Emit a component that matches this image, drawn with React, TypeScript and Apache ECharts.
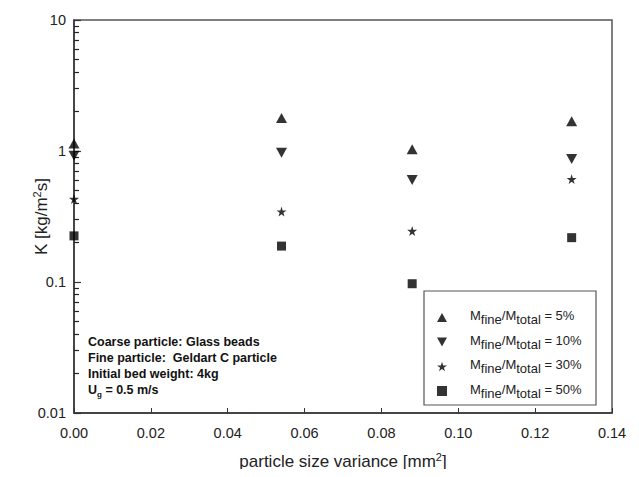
import React, { useEffect, useRef } from "react";
import * as echarts from "echarts";

const variance = [0, 0.054, 0.088, 0.1295];
const k5 = [1.14, 1.79, 1.03, 1.69];
const k10 = [0.92, 0.97, 0.6, 0.87];
const k30 = [0.43, 0.345, 0.245, 0.61];
const k50 = [0.225, 0.188, 0.097, 0.218];
const seriesLabels = ["5%", "10%", "30%", "50%"];
const yMinorTicks = [0.02, 0.03, 0.04, 0.05, 0.06, 0.07, 0.08, 0.09, 0.2, 0.3, 0.4, 0.5, 0.6, 0.7, 0.8, 0.9, 2, 3, 4, 5, 6, 7, 8, 9];
const noteLines = [
  "Coarse particle: Glass beads",
  "Fine particle:  Geldart C particle",
  "Initial bed weight: 4kg",
];

const UP = "path://M5,0 L10,9 L0,9 Z";
const DOWN = "path://M0,0 L10,0 L5,9 Z";
const STAR = "path://M50,0 L61,35 L98,35 L68,57 L79,91 L50,70 L21,91 L32,57 L2,35 L39,35 Z";

const FONT = "Liberation Sans, Arial, sans-serif";

export default function App() {
  const ref = useRef<HTMLDivElement>(null);
  useEffect(() => {
    const chart = echarts.init(ref.current!, null, { renderer: "svg" });
    const mk = (name: string, vals: number[], symbol: string, size: number | number[]) => ({
      name,
      type: "scatter",
      symbol,
      symbolSize: size,
      itemStyle: { color: "#000" },
      data: variance.map((x, i) => [x, vals[i]]),
      z: 5,
    });
    const names = seriesLabels.map((l) => "M" + l);
    chart.setOption({
      animation: false,
      backgroundColor: "#fff",
      textStyle: { fontFamily: FONT },
      grid: { left: 74, right: 27, top: 20, bottom: 64, show: true, borderColor: "#555", borderWidth: 1.5 },
      xAxis: {
        type: "value",
        min: 0,
        max: 0.14,
        interval: 0.02,
        name: "{t|particle size variance [mm}{sup|2}{t|]}",
        nameLocation: "middle",
        nameGap: 38,
        nameMoveOverlap: false,
        nameTextStyle: {
          color: "#222",
          rich: {
            t: { fontSize: 17, color: "#222", fontFamily: FONT, verticalAlign: "bottom" },
            sup: { fontSize: 11, color: "#222", fontFamily: FONT, verticalAlign: "bottom", padding: [0, 0, 8, 0] },
          },
        },
        axisLine: { lineStyle: { color: "#333", width: 1.5 } },
        axisTick: { inside: true, length: 5, lineStyle: { color: "#333" } },
        axisLabel: { fontSize: 14.5, color: "#222", margin: 12, formatter: (v: number) => v.toFixed(2) },
        splitLine: { show: false },
      },
      yAxis: {
        type: "log",
        min: 0.01,
        max: 10,
        logBase: 10,
        name: "{t|K [kg/m}{sup|2}{t|s]}",
        nameLocation: "middle",
        nameGap: 24,
        nameMoveOverlap: false,
        nameTextStyle: {
          color: "#222",
          rich: {
            t: { fontSize: 17, color: "#222", fontFamily: FONT, verticalAlign: "bottom" },
            sup: { fontSize: 11, color: "#222", fontFamily: FONT, verticalAlign: "bottom", padding: [0, 0, 8, 0] },
          },
        },
        axisLine: { lineStyle: { color: "#333", width: 1.5 } },
        axisTick: { inside: true, length: 7, lineStyle: { color: "#333", width: 1.2 } },
        axisLabel: { fontSize: 14.5, color: "#222", margin: 8, formatter: (v: number) => String(+v.toPrecision(3)) },
        splitLine: { show: false },
      },
      legend: {
        data: names,
        orient: "vertical",
        left: 432,
        top: 304,
        itemWidth: 10,
        itemHeight: 10,
        itemGap: 7.5,
        formatter: (n: string) => `{m|M}{s|fine}{m|/M}{s|total}{m| = ${n.slice(1)}}`,
        textStyle: {
          color: "#222",
          padding: [0, 0, 0, 18],
          rich: {
            m: { fontSize: 13, fontFamily: FONT, color: "#222", verticalAlign: "bottom", padding: [0, 0, 4, 0] },
            s: { fontSize: 13, fontFamily: FONT, color: "#222", verticalAlign: "bottom" },
          },
        },
      },
      graphic: [
        {
          type: "rect",
          shape: { x: 424, y: 291, width: 172, height: 114 },
          style: { fill: "#fff", stroke: "#555", lineWidth: 1.2 },
          z: 1,
        },
        {
          type: "text",
          left: 88,
          top: 335,
          style: {
            text: noteLines.map((l) => `{b|${l}}`).join("\n") + "\n{b|U}{g|g}{b| = 0.5 m/s}",
            rich: {
              b: { fontSize: 12.5, fontWeight: "bold", fontFamily: FONT, fill: "#111", lineHeight: 16, verticalAlign: "bottom", padding: [0, 0, 2, 0] },
              g: { fontSize: 8, fontWeight: "bold", fontFamily: FONT, fill: "#111", lineHeight: 16, verticalAlign: "bottom" },
            },
          },
          z: 10,
        },
      ],
      series: [
        mk(names[0], k5, UP, [11, 10]),
        mk(names[1], k10, DOWN, [11, 10]),
        mk(names[2], k30, STAR, 10),
        mk(names[3], k50, "rect", 9),
        {
          type: "line",
          name: "minorTicks",
          silent: true,
          symbol: "none",
          lineStyle: { opacity: 0 },
          data: [[0, 0.5]],
          markLine: {
            silent: true,
            symbol: "none",
            label: { show: false },
            lineStyle: { color: "#222", width: 1.2, type: "solid" },
            data: yMinorTicks.map((v) => [{ coord: [0, v] }, { coord: [0.0013, v] }]),
          },
          z: 6,
        },
      ],
    });
    return () => chart.dispose();
  }, []);
  return <div ref={ref} style={{ width: 639, height: 477, margin: -8 }} />;
}
